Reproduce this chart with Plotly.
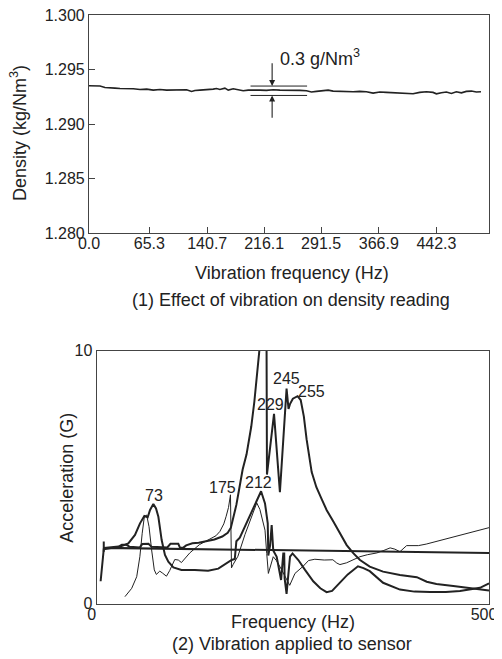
import plotly.graph_objects as go

# ---------------- Panel (1): density vs vibration frequency ----------------
density_freq = [0, 1.3, 10.0, 14.4, 20.9, 27.5, 34.0, 40.6, 49.3, 58.0, 66.8, 75.5, 84.2, 92.9,
                101.7, 110.4, 119.1, 127.8, 134.4, 138.7, 145.3, 154.0, 162.7, 167.1, 171.5,
                178.0, 182.4, 188.9, 195.5, 202.0, 208.6, 215.1, 223.8, 232.5, 241.3, 250.0,
                258.7, 267.5, 276.2, 284.9, 291.4, 298.0, 306.7, 313.3, 319.8, 328.5, 337.3,
                346.0, 354.7, 363.4, 372.2, 380.9, 389.6, 398.3, 407.1, 415.8, 424.5, 433.2,
                442.0, 450.7, 455.1, 461.6, 468.2, 474.7, 481.2, 487.8, 494.3, 500.9, 507.4, 513.5]
density_val = [1.29352, 1.29352, 1.29355, 1.29349, 1.29336, 1.29336, 1.29330, 1.29327, 1.29327,
               1.29324, 1.29318, 1.29321, 1.29312, 1.29318, 1.29312, 1.29315, 1.29312, 1.29315,
               1.29300, 1.29309, 1.29312, 1.29315, 1.29321, 1.29327, 1.29318, 1.29330, 1.29312,
               1.29324, 1.29315, 1.29306, 1.29312, 1.29309, 1.29312, 1.29309, 1.29315, 1.29312,
               1.29312, 1.29315, 1.29309, 1.29306, 1.29294, 1.29300, 1.29303, 1.29312, 1.29303,
               1.29300, 1.29303, 1.29297, 1.29300, 1.29297, 1.29284, 1.29294, 1.29291, 1.29287,
               1.29287, 1.29281, 1.29278, 1.29291, 1.29297, 1.29291, 1.29278, 1.29287, 1.29294,
               1.29281, 1.29297, 1.29287, 1.29300, 1.29303, 1.29294, 1.29297]
density_tick_pos = [0, 79.0, 154.9, 229.5, 304.1, 379.6, 455.1]
density_tick_text = ["0.0", "65.3", "140.7", "216.1", "291.5", "366.9", "442.3"]
density_y_ticks = [1.280, 1.285, 1.290, 1.295, 1.300]

# ---------------- Panel (2): acceleration vs frequency ----------------
ref_freq = [9, 9, 9, 500]
ref_acc = [2.45, 2.05, 2.2, 2.0]

big_freq = [9, 20, 28, 32, 38, 42, 55, 58, 66, 70, 90, 94, 104, 106, 110, 114, 122, 130, 140,
            150, 160, 167, 171, 174, 178, 182, 186, 191, 197, 201, 204, 206, 208, 212, 216.5,
            217, 226, 233.5, 242, 244.5, 246.5, 250, 256, 260, 264, 267.5, 274, 280, 286.6,
            293, 301.6, 310, 318.6, 327, 335.6, 348, 365, 386.5, 408, 420.6, 433, 454.5, 480, 500]
big_acc = [2.2, 2.22, 2.25, 2.32, 2.32, 2.24, 2.22, 2.35, 2.36, 2.24, 2.22, 2.36, 2.36, 2.22,
           2.2, 2.3, 2.38, 2.4, 2.45, 2.53, 2.65, 2.8, 3.0, 3.4, 3.9, 4.6, 5.3, 5.9, 7.0, 8.0,
           8.8, 9.4, 10.0, 11.5, 10.0, 5.1, 7.5, 4.4, 8.5, 7.7, 7.9, 8.1, 8.2, 8.05, 7.4, 6.5,
           5.2, 4.6, 4.14, 3.7, 3.24, 2.78, 2.31, 1.99, 1.72, 1.46, 1.26, 1.13, 1.04, 0.86,
           0.77, 0.69, 0.6, 0.51]

mid_freq = [5, 9, 20, 30, 40.3, 48.8, 55.2, 60.7, 65, 68, 72.2, 75.6, 78.6, 82.8, 87, 91.3,
            97.7, 108, 125, 142, 155, 167.5, 172, 176, 178, 182.4, 189, 197, 204, 209.5, 214.5,
            218, 218.7, 221, 223, 225, 229.4, 232.3, 235, 237.8, 239, 239.5, 242, 244, 246.4,
            249.6, 257, 265.5, 276, 285, 293, 300, 310, 320, 333, 340, 348, 365, 386.5, 405,
            425, 445, 463, 480, 488.5, 500]
mid_acc = [0.88, 2.15, 2.2, 2.25, 2.38, 2.71, 3.17, 3.46, 3.41, 3.7, 3.94, 3.76, 3.43, 2.51,
           1.92, 1.65, 1.43, 1.33, 1.33, 1.3, 1.38, 1.62, 1.72, 1.76, 2.46, 2.6, 3.06, 3.58,
           4.04, 4.44, 3.96, 3.17, 1.9, 2.3, 3.1, 2.1, 1.85, 1.33, 0.93, 1.98, 1.98, 1.0, 0.38,
           1.06, 1.85, 1.98, 1.72, 1.33, 0.88, 0.6, 0.45, 0.5, 0.82, 1.15, 1.47, 1.4, 1.28,
           0.82, 0.55, 0.47, 0.45, 0.45, 0.49, 0.57, 0.62, 0.8]

thin_freq = [36, 44.6, 51, 55, 58, 60.7, 63.7, 66.7, 70, 73.4, 76, 80.4, 84, 88.9, 93, 99.5,
             104, 108, 113, 118.6, 131, 144, 152, 157, 162, 165, 168, 170.5, 171.8, 174, 180,
             189, 197, 204, 208, 214.5, 216.7, 218.8, 225, 229, 235.8, 240, 244, 246, 252.7,
             263, 270, 278, 290, 301, 306, 310, 318.5, 327, 335.5, 345, 357, 366, 374, 380,
             386.5, 395, 410, 420, 500]
thin_acc = [0.27, 0.6, 1.06, 1.85, 2.78, 3.43, 3.5, 3.04, 2.12, 1.33, 1.15, 1.28, 1.2, 1.08,
            1.3, 1.74, 1.72, 1.62, 1.8, 2.0, 2.33, 2.53, 2.68, 2.85, 3.15, 3.45, 3.8, 4.3, 1.41,
            1.55, 1.87, 2.73, 3.39, 3.98, 3.72, 2.9, 1.98, 1.19, 1.85, 1.7, 1.33, 1.06, 0.8,
            0.72, 1.19, 1.47, 1.7, 1.75, 1.72, 1.73, 1.6, 1.54, 1.61, 1.72, 1.85, 1.93, 2.0,
            2.1, 2.2, 2.15, 2.05, 2.29, 2.29, 2.35, 3.0]

peak_labels = ["73", "175", "212", "212", "229", "245", "255"]
peak_label_x = [72.7, 160.4, 206.6, 211.4, 221.9, 242.0, 273.9]
peak_label_y = [4.28, 4.6, 4.78, 10.4, 7.86, 8.9, 8.4]

# the page body has an 8 px margin, so the figure is drawn 8 px in from the corner
OFF = 8
W, H = 502 - OFF, 659 - OFF
FONT = "Liberation Sans, Arial, sans-serif"
INK = "#222222"
FRAME = "#444444"

fig = go.Figure()

fig.add_trace(go.Scatter(x=density_freq, y=density_val, mode="lines",
                         line=dict(color=INK, width=1.6), xaxis="x", yaxis="y",
                         showlegend=False, hoverinfo="skip"))

fig.add_trace(go.Scatter(x=ref_freq, y=ref_acc, mode="lines",
                         line=dict(color=INK, width=2), xaxis="x2", yaxis="y2",
                         showlegend=False, hoverinfo="skip"))
fig.add_trace(go.Scatter(x=thin_freq, y=thin_acc, mode="lines",
                         line=dict(color=INK, width=1), xaxis="x2", yaxis="y2",
                         showlegend=False, hoverinfo="skip"))
fig.add_trace(go.Scatter(x=mid_freq, y=mid_acc, mode="lines",
                         line=dict(color=INK, width=2), xaxis="x2", yaxis="y2",
                         showlegend=False, hoverinfo="skip"))
fig.add_trace(go.Scatter(x=big_freq, y=big_acc, mode="lines",
                         line=dict(color=INK, width=2), xaxis="x2", yaxis="y2",
                         showlegend=False, hoverinfo="skip"))

def px_x(p):
    return (p - OFF) / W

def px_y(p):
    return 1 - (p - OFF) / H

axis_common = dict(showgrid=False, zeroline=False, showline=True, mirror=True,
                   linecolor=FRAME, linewidth=1.2, automargin=False,
                   ticklabeloverflow="allow",
                   tickfont=dict(family=FONT, size=16, color=INK))

fig.update_layout(
    width=W, height=H, autosize=False,
    margin=dict(l=0, r=0, t=0, b=0, pad=0),
    paper_bgcolor="white", plot_bgcolor="white",
    font=dict(family=FONT, color=INK),
    xaxis=dict(domain=[px_x(89), px_x(489)], range=[0, 524], anchor="y",
               tickvals=density_tick_pos, ticktext=density_tick_text,
               ticks="inside", ticklen=6, tickcolor=FRAME, ticklabelstandoff=-5,
               **axis_common),
    yaxis=dict(domain=[px_y(233.3), px_y(15)], range=[1.280, 1.300], anchor="x",
               tickvals=density_y_ticks, tickformat=".3f",
               ticks="inside", ticklen=6, tickcolor=FRAME, **axis_common),
    xaxis2=dict(domain=[px_x(96.7), px_x(489)], range=[0, 500], anchor="y2",
                tickvals=[0, 500], ticks="", ticklabelstandoff=-4, ticklabelshift=-5,
                **axis_common),
    yaxis2=dict(domain=[px_y(603.5), px_y(350.7)], range=[0, 10], anchor="x2",
                tickvals=[0, 10], ticks="", **axis_common),
)

# bracket marking 0.3 g/Nm3
br_x0, br_x1, br_xa = 211.6, 285.7, 239.9
br_top, br_bot = 1.29349, 1.29263
for yy in (br_top, br_bot):
    fig.add_shape(type="line", xref="x", yref="y", x0=br_x0, x1=br_x1, y0=yy, y1=yy,
                  line=dict(color=INK, width=1))
fig.add_annotation(xref="x", yref="y", axref="x", ayref="y", x=br_xa, y=br_top,
                   ax=br_xa, ay=1.29572, text="", showarrow=True, arrowhead=2,
                   arrowsize=1.1, arrowwidth=1.1, arrowcolor=INK, standoff=0)
fig.add_annotation(xref="x", yref="y", axref="x", ayref="y", x=br_xa, y=br_bot,
                   ax=br_xa, ay=1.29046, text="", showarrow=True, arrowhead=2,
                   arrowsize=1.1, arrowwidth=1.1, arrowcolor=INK, standoff=0)
fig.add_annotation(xref="x", yref="y", x=247.8, y=1.29612, xanchor="left", yanchor="middle",
                   text="0.3 g/Nm<sup>3</sup>", showarrow=False,
                   font=dict(family=FONT, size=18, color=INK))

for t, xv, yv in zip(peak_labels, peak_label_x, peak_label_y):
    fig.add_annotation(xref="x2", yref="y2", x=xv, y=yv, text=t, showarrow=False,
                       xanchor="center", yanchor="middle",
                       font=dict(family=FONT, size=16, color=INK))

def paper_text(txt, x, y, size=18, angle=0):
    fig.add_annotation(xref="paper", yref="paper", x=px_x(x), y=px_y(y), text=txt,
                       showarrow=False, xanchor="center", yanchor="middle", textangle=angle,
                       font=dict(family=FONT, size=size, color=INK))

paper_text("Density (kg/Nm<sup>3</sup>)", 18, 133, angle=-90)
paper_text("Vibration frequency (Hz)", 291.5, 273)
paper_text("(1) Effect of vibration on density reading", 291, 300)
paper_text("Acceleration (G)", 66.7, 478, angle=-90)
paper_text("Frequency (Hz)", 293, 622)
paper_text("(2) Vibration applied to sensor", 291.7, 644)

fig.write_html("out.html")
